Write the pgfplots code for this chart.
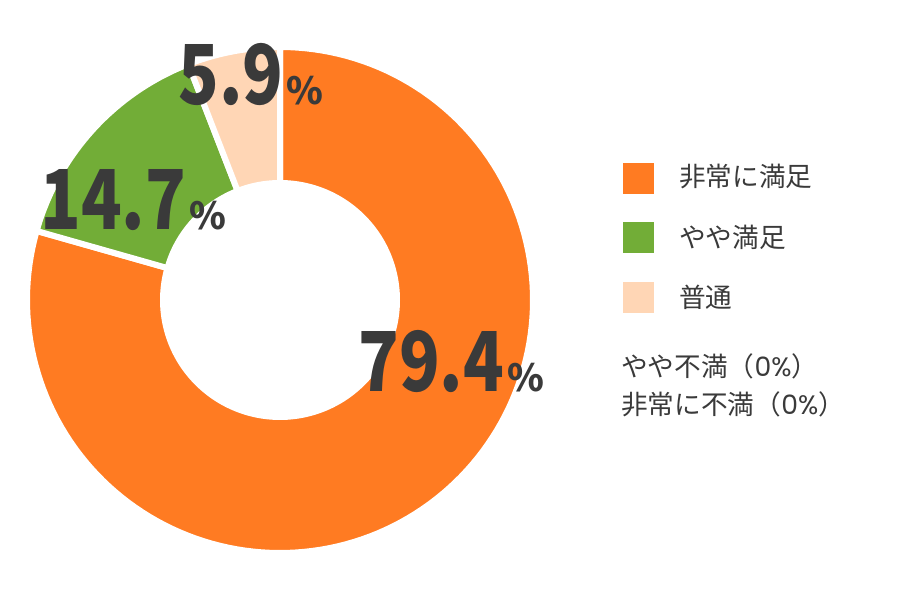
\documentclass[border=0pt]{standalone}
\usepackage{pgfplots}
\pgfplotsset{compat=1.18}
\usepgfplotslibrary{fillbetween}
\usepackage{fontspec}
\setmainfont{Noto Sans CJK JP}
\newfontfamily\roundfont{Poppins}

\definecolor{cOrange}{RGB}{255,123,34}
\definecolor{cGreen}{RGB}{114,173,55}
\definecolor{cPeach}{RGB}{255,214,181}
\definecolor{cText}{RGB}{58,58,58}

% one ring sector: #1 start (%), #2 end (%), #3 colour, #4 name
\newcommand\sector[4]{%
  \addplot[draw=none, name path=o#4, domain=#1:#2, samples=150]
    ({280+253*cos(90-3.6*x)}, {300+253*sin(90-3.6*x)});
  \addplot[draw=none, name path=i#4, domain=#1:#2, samples=150]
    ({280+117*cos(90-3.6*x)}, {300+117*sin(90-3.6*x)});
  \addplot[fill=#3, draw=white, line width=4.5pt] fill between[of=o#4 and i#4];
}
% big percentage label, narrow digits
\newcommand\bignum[1]{\scalebox{0.81}[1]{\fontsize{62}{62}\selectfont\bfseries #1}%
  \kern2.5pt{\fontsize{28}{28}\selectfont\bfseries\%}}

\begin{document}
\begin{tikzpicture}
\begin{axis}[
    x=0.75pt, y=0.75pt,
    xmin=0, xmax=900, ymin=0, ymax=600,
    hide axis, clip=false,
    ]
    \coordinate (bl) at (axis cs:0,0);
    \coordinate (tr) at (axis cs:900,600);
    % 79.4 / 14.7 / 5.9, clockwise from the top
    \sector{0}{79.4}{cOrange}{a}
    \sector{79.4}{94.1}{cGreen}{b}
    \sector{94.1}{100}{cPeach}{c}

    \node[anchor=base west, inner sep=0, text=cText]
        at (axis cs:358,208) {\bignum{79.4}};
    \node[anchor=base west, inner sep=0, text=cText]
        at (axis cs:40,370) {\bignum{14.7}};
    \node[anchor=base west, inner sep=0, text=cText]
        at (axis cs:178,495) {\bignum{5.9}};

    % legend
    \addplot[only marks, mark=square*, mark size=11.25pt, cOrange] coordinates {(638,422)};
    \addplot[only marks, mark=square*, mark size=11.25pt, cGreen] coordinates {(638,363)};
    \addplot[only marks, mark=square*, mark size=11.25pt, cPeach] coordinates {(638,303)};
    \node[anchor=west, inner sep=0, text=cText, font=\fontsize{20}{20}\selectfont]
        at (axis cs:679,423) {非常に満足};
    \node[anchor=west, inner sep=0, text=cText, font=\fontsize{20}{20}\selectfont]
        at (axis cs:679,363) {やや満足};
    \node[anchor=west, inner sep=0, text=cText, font=\fontsize{20}{20}\selectfont]
        at (axis cs:679,303) {普通};
    \node[anchor=west, inner sep=0, text=cText, font=\fontsize{20}{20}\selectfont]
        at (axis cs:621,234) {やや不満（{\roundfont 0\%}）};
    \node[anchor=west, inner sep=0, text=cText, font=\fontsize{20}{20}\selectfont]
        at (axis cs:621,196) {非常に不満（{\roundfont 0\%}）};
\end{axis}
\pgfresetboundingbox
\path (bl) rectangle (tr);
\end{tikzpicture}
\end{document}
